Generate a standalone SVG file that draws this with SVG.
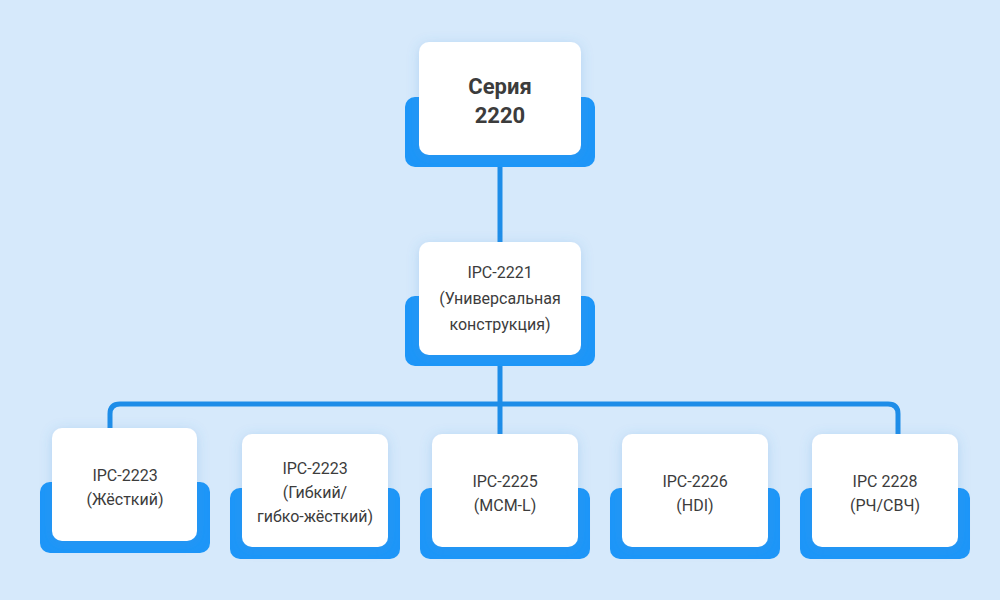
<svg xmlns="http://www.w3.org/2000/svg" width="1000" height="600" viewBox="0 0 1000 600">
<defs>
<filter id="sh" x="-30%" y="-30%" width="160%" height="160%"><feDropShadow dx="0" dy="2" stdDeviation="6" flood-color="#4a90d9" flood-opacity="0.25"/></filter>
<style>
.back{fill:#1d96f8}
.card{fill:#ffffff;filter:url(#sh)}
.t{font-family:Roboto,"Noto Sans",sans-serif;fill:#3c3c3c;text-anchor:middle;font-size:16px}
.tb{font-family:Roboto,"Noto Sans",sans-serif;fill:#3c3c3c;text-anchor:middle;font-size:22px;font-weight:bold}
.c{fill:none;stroke:#1e8de8;stroke-width:5}
</style>
</defs>
<rect width="1000" height="600" fill="#d6e9fb"/>
<g id="connectors">
<path class="c" d="M500 167V242M500 366V404M110 430V414Q110 404 120 404H888Q898 404 898 414V434M500 404V434"/>
</g>
<g id="n0"><rect class="back" x="405" y="97" width="190" height="70" rx="10"/><rect class="card" x="419" y="42" width="162" height="113" rx="10"/>
<text class="tb" x="500" y="94">Серия</text><text class="tb" x="500" y="123">2220</text></g>
<g id="n1"><rect class="back" x="405" y="296" width="190" height="70" rx="10"/><rect class="card" x="419" y="242" width="162" height="113" rx="10"/>
<text class="t" x="500" y="278">IPC-2221</text><text class="t" x="500" y="304">(Универсальная</text><text class="t" x="500" y="330">конструкция)</text></g>
<g id="n2"><rect class="back" x="40" y="482" width="170" height="71" rx="10"/><rect class="card" x="52" y="428" width="145" height="113" rx="10"/>
<text class="t" x="125" y="481">IPC-2223</text><text class="t" x="125" y="505">(Жёсткий)</text></g>
<g id="n3"><rect class="back" x="230" y="488" width="170" height="71" rx="10"/><rect class="card" x="242" y="434" width="146" height="113" rx="10"/>
<text class="t" x="315" y="474">IPC-2223</text><text class="t" x="315" y="498">(Гибкий/</text><text class="t" x="315" y="522">гибко-жёсткий)</text></g>
<g id="n4"><rect class="back" x="420" y="488" width="170" height="71" rx="10"/><rect class="card" x="432" y="434" width="146" height="113" rx="10"/>
<text class="t" x="505" y="487">IPC-2225</text><text class="t" x="505" y="511">(MCM-L)</text></g>
<g id="n5"><rect class="back" x="610" y="488" width="170" height="71" rx="10"/><rect class="card" x="622" y="434" width="146" height="113" rx="10"/>
<text class="t" x="695" y="487">IPC-2226</text><text class="t" x="695" y="511">(HDI)</text></g>
<g id="n6"><rect class="back" x="800" y="488" width="170" height="71" rx="10"/><rect class="card" x="812" y="434" width="146" height="113" rx="10"/>
<text class="t" x="885" y="487">IPC 2228</text><text class="t" x="885" y="511">(РЧ/СВЧ)</text></g>
</svg>
